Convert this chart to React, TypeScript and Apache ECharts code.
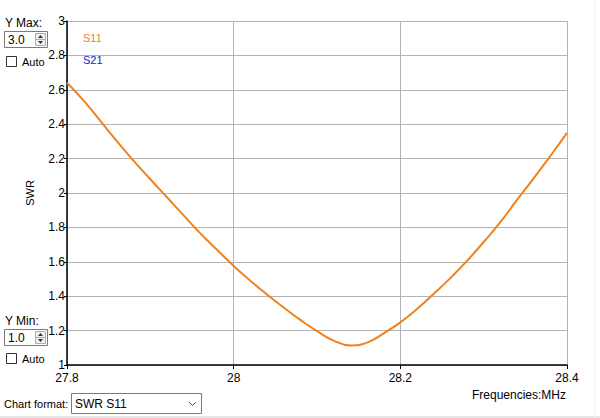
import { useEffect, useRef } from 'react';
import * as echarts from 'echarts';

// S11 SWR readings (MHz, SWR)
const freqs = [
  27.8, 27.82, 27.84, 27.86, 27.88, 27.9, 27.92, 27.94, 27.96, 27.98, 28.0,
  28.02, 28.04, 28.06, 28.08, 28.1, 28.12, 28.14, 28.16, 28.18, 28.2,
  28.22, 28.24, 28.26, 28.28, 28.3, 28.32, 28.34, 28.36, 28.38, 28.4,
];
const swrS11 = [
  2.641, 2.537, 2.42, 2.3, 2.187, 2.08, 1.975, 1.87, 1.765, 1.67, 1.576,
  1.49, 1.41, 1.334, 1.262, 1.197, 1.142, 1.114, 1.13, 1.184, 1.248,
  1.326, 1.413, 1.505, 1.605, 1.715, 1.83, 1.96, 2.085, 2.215, 2.35,
];
const legendNames = ['S11', 'S21'];
const yMaxText = '3.0';
const yMinText = '1.0';
const chartFormat = 'SWR S11';

const FONT = '"Liberation Sans", Arial, sans-serif';

function spinBox(top: number, value: string) {
  return [
    {
      type: 'rect',
      shape: { x: 4.5, y: top + 0.5, width: 43, height: 16 },
      style: { fill: '#fff', stroke: '#7a7a7a', lineWidth: 1 },
    },
    {
      type: 'rect',
      shape: { x: 35.5, y: top + 2.5, width: 10, height: 12 },
      style: { fill: '#f0f0f0', stroke: '#adadad', lineWidth: 1 },
    },
    {
      type: 'line',
      shape: { x1: 35.5, y1: top + 8.5, x2: 45.5, y2: top + 8.5 },
      style: { stroke: '#adadad', lineWidth: 1 },
    },
    {
      type: 'polygon',
      shape: { points: [[38, top + 7], [43, top + 7], [40.5, top + 4]] },
      style: { fill: '#333' },
    },
    {
      type: 'polygon',
      shape: { points: [[38, top + 10], [43, top + 10], [40.5, top + 13]] },
      style: { fill: '#333' },
    },
    {
      type: 'text',
      x: 8,
      y: top + 9,
      style: { text: value, font: `12px ${FONT}`, fill: '#000', verticalAlign: 'middle' },
    },
  ];
}

function checkBox(top: number) {
  return [
    {
      type: 'rect',
      shape: { x: 6.5, y: top + 0.5, width: 10, height: 10 },
      style: { fill: '#fff', stroke: '#333', lineWidth: 1 },
    },
    {
      type: 'text',
      x: 22,
      y: top + 6,
      style: { text: 'Auto', font: `11px ${FONT}`, fill: '#000', verticalAlign: 'middle' },
    },
  ];
}

export default function App() {
  const chartRef = useRef<HTMLDivElement>(null);

  useEffect(() => {
    if (!chartRef.current) return;
    const chart = echarts.init(chartRef.current, undefined, { renderer: 'svg' });

    const option = {
      animation: false,
      backgroundColor: '#ffffff',
      textStyle: { fontFamily: FONT },
      grid: { left: 67, top: 21, width: 500, height: 344 },
      xAxis: {
        type: 'value',
        min: 27.8,
        max: 28.4,
        interval: 0.2,
        axisLine: { show: true, onZero: false, lineStyle: { color: '#000', width: 1.5 } },
        axisTick: { show: true, length: 4, lineStyle: { color: '#000' } },
        axisLabel: {
          color: '#000',
          fontSize: 12,
          lineHeight: 12,
          margin: 7,
          showMinLabel: true,
          showMaxLabel: true,
          formatter: (v: number) => String(parseFloat(v.toFixed(1))),
        },
        splitLine: { show: true, lineStyle: { color: '#b4b4b4', width: 1 } },
      },
      yAxis: {
        type: 'value',
        min: 1,
        max: 3,
        interval: 0.2,
        axisLine: { show: true, onZero: false, lineStyle: { color: '#000', width: 1.5 } },
        axisTick: { show: true, length: 3, lineStyle: { color: '#000' } },
        axisLabel: {
          color: '#000',
          fontSize: 12,
          lineHeight: 10,
          margin: 2,
          formatter: (v: number) => String(parseFloat(v.toFixed(1))),
        },
        splitLine: { show: true, lineStyle: { color: '#b4b4b4', width: 1 } },
      },
      series: [
        {
          name: legendNames[0],
          type: 'line',
          smooth: true,
          symbol: 'none',
          lineStyle: { color: '#f0821e', width: 2 },
          data: freqs.map((f, i) => [f, swrS11[i]]),
        },
      ],
      graphic: [
        {
          type: 'text',
          x: 83,
          y: 38,
          style: { text: legendNames[0], font: `11px ${FONT}`, fill: '#f0821e', verticalAlign: 'middle' },
        },
        {
          type: 'text',
          x: 83,
          y: 60,
          style: { text: legendNames[1], font: `11px ${FONT}`, fill: '#2020c8', verticalAlign: 'middle' },
        },
        {
          type: 'text',
          x: 30,
          y: 193,
          rotation: Math.PI / 2,
          style: { text: 'SWR', font: `11px ${FONT}`, fill: '#000', align: 'center', verticalAlign: 'middle' },
        },
        {
          type: 'text',
          x: 566,
          y: 395,
          style: { text: 'Frequencies:MHz', font: `12px ${FONT}`, fill: '#000', align: 'right', verticalAlign: 'middle' },
        },
        {
          type: 'text',
          x: 5,
          y: 23,
          style: { text: 'Y Max:', font: `12px ${FONT}`, fill: '#000', verticalAlign: 'middle' },
        },
        ...spinBox(31, yMaxText),
        ...checkBox(56),
        {
          type: 'text',
          x: 5,
          y: 321,
          style: { text: 'Y Min:', font: `12px ${FONT}`, fill: '#000', verticalAlign: 'middle' },
        },
        ...spinBox(329, yMinText),
        ...checkBox(353),
        {
          type: 'text',
          x: 4,
          y: 404,
          style: { text: 'Chart format:', font: `11px ${FONT}`, fill: '#000', verticalAlign: 'middle' },
        },
        {
          type: 'rect',
          shape: { x: 71.5, y: 393.5, width: 130, height: 20 },
          style: { fill: '#fff', stroke: '#7a7a7a', lineWidth: 1 },
        },
        {
          type: 'text',
          x: 75,
          y: 404,
          style: { text: chartFormat, font: `12px ${FONT}`, fill: '#000', verticalAlign: 'middle' },
        },
        {
          type: 'polyline',
          shape: { points: [[189, 402], [192.5, 405.5], [196, 402]] },
          style: { stroke: '#555', lineWidth: 1, fill: 'none' },
        },
        {
          type: 'line',
          shape: { x1: 0, y1: 417, x2: 600, y2: 417 },
          style: { stroke: '#e6e6e6', lineWidth: 2 },
        },
        {
          type: 'line',
          shape: { x1: 595, y1: 0, x2: 595, y2: 418 },
          style: { stroke: '#f0f0f0', lineWidth: 1 },
        },
      ],
    };

    chart.setOption(option as echarts.EChartsOption);

    return () => {
      chart.dispose();
    };
  }, []);

  return (
    <div
      ref={chartRef}
      style={{ position: 'fixed', left: 0, top: 0, width: 600, height: 418 }}
    />
  );
}
